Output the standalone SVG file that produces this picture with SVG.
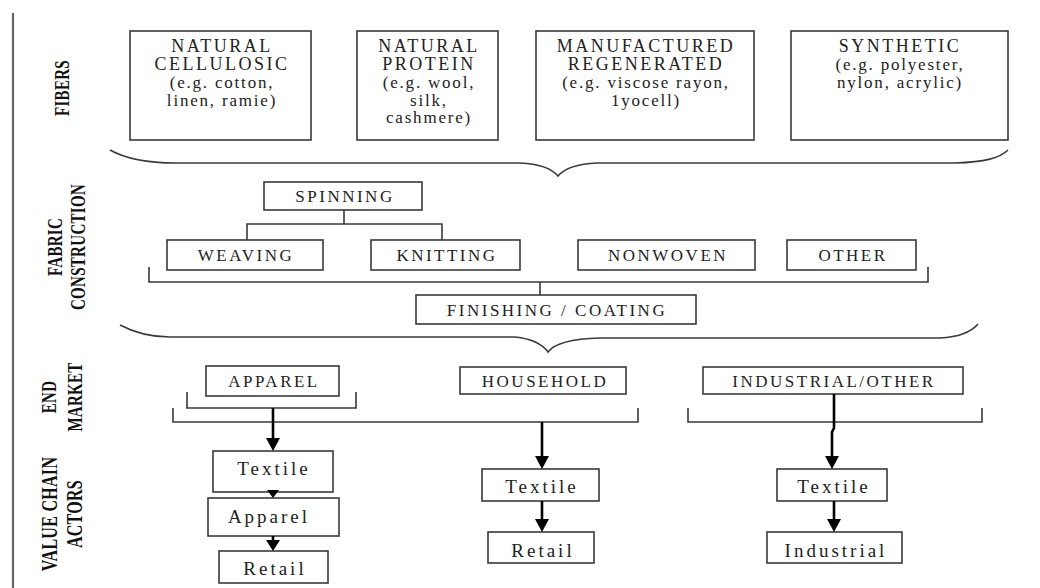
<svg xmlns="http://www.w3.org/2000/svg" width="1040" height="588" viewBox="0 0 1040 588">
  <style>
    .box { fill: #fff; stroke: #3a3a3a; stroke-width: 1.6; }
    .ln { fill: none; stroke: #3a3a3a; stroke-width: 1.6; }
    .arr { fill: none; stroke: #000; stroke-width: 2.6; }
    .tip { fill: #000; }
    text { font-family: "Liberation Serif", "Times New Roman", serif; fill: #222; text-anchor: middle; }
    .fc { font-size: 18px; letter-spacing: 2.5px; }
    .fl { font-size: 17px; letter-spacing: 1.8px; }
    .cap { font-size: 17px; letter-spacing: 2.5px; }
    .low { font-size: 19px; letter-spacing: 3px; }
    .side { font-size: 15px; font-weight: bold; letter-spacing: 0.3px; dominant-baseline: central; fill: #111; }
  </style>

  <rect width="1040" height="588" fill="#fff"/>

  <!-- left rule -->
  <line x1="13" y1="13" x2="13" y2="588" stroke="#666" stroke-width="2.2"/>

  <!-- row labels -->
  <g id="labels">
    <text class="side" transform="translate(61,88) rotate(-90) scale(1,1.45)">FIBERS</text>
    <text class="side" transform="translate(54,247) rotate(-90) scale(1,1.45)">FABRIC</text>
    <text class="side" transform="translate(77,247) rotate(-90) scale(1,1.45)">CONSTRUCTION</text>
    <text class="side" transform="translate(48,397) rotate(-90) scale(1,1.45)">END</text>
    <text class="side" transform="translate(74,397) rotate(-90) scale(1,1.45)">MARKET</text>
    <text class="side" style="font-size:16px" transform="translate(49,514) rotate(-90) scale(1,1.45)">VALUE CHAIN</text>
    <text class="side" style="font-size:16px" transform="translate(74,514) rotate(-90) scale(1,1.45)">ACTORS</text>
  </g>

  <!-- fibers -->
  <g id="natural-cellulosic">
    <rect class="box" x="130" y="31" width="181" height="109"/>
    <text class="fc" x="222" y="52">NATURAL</text>
    <text class="fc" x="222" y="70">CELLULOSIC</text>
    <text class="fl" x="222" y="88">(e.g. cotton,</text>
    <text class="fl" x="222" y="106">linen, ramie)</text>
  </g>
  <g id="natural-protein">
    <rect class="box" x="357" y="31" width="141" height="109"/>
    <text class="fc" x="429" y="52">NATURAL</text>
    <text class="fc" x="429" y="70">PROTEIN</text>
    <text class="fl" x="429" y="88">(e.g. wool,</text>
    <text class="fl" x="429" y="106">silk,</text>
    <text class="fl" x="429" y="123">cashmere)</text>
  </g>
  <g id="manufactured-regenerated">
    <rect class="box" x="536" y="31" width="218" height="109"/>
    <text class="fc" x="646" y="52">MANUFACTURED</text>
    <text class="fc" x="646" y="70">REGENERATED</text>
    <text class="fl" x="646" y="88">(e.g. viscose rayon,</text>
    <text class="fl" x="646" y="106">1yocell)</text>
  </g>
  <g id="synthetic">
    <rect class="box" x="791" y="31" width="217" height="109"/>
    <text class="fc" x="900" y="52">SYNTHETIC</text>
    <text class="fl" x="900" y="70">(e.g. polyester,</text>
    <text class="fl" x="900" y="88">nylon, acrylic)</text>
  </g>

  <!-- fabric construction -->
  <g id="spinning">
    <rect class="box" x="264" y="182" width="158" height="28"/>
    <text class="cap" x="345" y="202">SPINNING</text>
  </g>
  <g id="weaving">
    <rect class="box" x="167" y="240" width="156" height="30"/>
    <text class="cap" x="246" y="261">WEAVING</text>
  </g>
  <g id="knitting">
    <rect class="box" x="371" y="240" width="149" height="30"/>
    <text class="cap" x="447" y="261">KNITTING</text>
  </g>
  <g id="nonwoven">
    <rect class="box" x="578" y="240" width="177" height="30"/>
    <text class="cap" x="668" y="261">NONWOVEN</text>
  </g>
  <g id="other">
    <rect class="box" x="787" y="240" width="129" height="30"/>
    <text class="cap" x="853" y="261">OTHER</text>
  </g>
  <g id="finishing">
    <rect class="box" x="416" y="295" width="280" height="29"/>
    <text class="cap" x="557" y="316">FINISHING / COATING</text>
  </g>

  <!-- end markets -->
  <g id="apparel-market">
    <rect class="box" x="206" y="366" width="133" height="30"/>
    <text class="cap" x="274" y="387">APPAREL</text>
  </g>
  <g id="household-market">
    <rect class="box" x="460" y="367" width="166" height="27"/>
    <text class="cap" x="545" y="387">HOUSEHOLD</text>
  </g>
  <g id="industrial-market">
    <rect class="box" x="703" y="367" width="260" height="27"/>
    <text class="cap" x="834" y="387">INDUSTRIAL/OTHER</text>
  </g>

  <!-- value chain actors -->
  <g id="apparel-textile">
    <rect class="box" x="213" y="451" width="120" height="41"/>
    <text class="low" x="274" y="475">Textile</text>
  </g>
  <g id="apparel-apparel">
    <rect class="box" x="208" y="498" width="131" height="38"/>
    <text class="low" x="269" y="523">Apparel</text>
  </g>
  <g id="apparel-retail">
    <rect class="box" x="219" y="551" width="109" height="32"/>
    <text class="low" x="275" y="575">Retail</text>
  </g>
  <g id="household-textile">
    <rect class="box" x="482" y="469" width="117" height="32"/>
    <text class="low" x="542" y="493">Textile</text>
  </g>
  <g id="household-retail">
    <rect class="box" x="488" y="532" width="106" height="31"/>
    <text class="low" x="543" y="557">Retail</text>
  </g>
  <g id="industrial-textile">
    <rect class="box" x="777" y="469" width="110" height="32"/>
    <text class="low" x="834" y="493">Textile</text>
  </g>
  <g id="industrial-industrial">
    <rect class="box" x="767" y="532" width="135" height="31"/>
    <text class="low" x="836" y="557">Industrial</text>
  </g>

  <g id="connectors">
    <!-- brace under fibers -->
    <path class="ln" d="M110,150 C128,160 150,163 175,163 L520,163 C540,164 552,169 558,176 C564,169 576,164 597,163 L955,163 C985,162 1000,158 1008,150"/>
    <!-- spinning fork -->
    <path class="ln" d="M344,210 V224 M247,240 V224 H442 V240"/>
    <!-- bracket gathering constructions -->
    <path class="ln" d="M149,267 V282 H928 V267 M540,282 V295"/>
    <!-- brace under finishing -->
    <path class="ln" d="M120,325 C135,333 150,337 170,337 L515,337 C534,339 543,345 548,352 C553,345 565,339 600,338 L940,338 C960,337 972,331 978,324"/>
    <!-- end market brackets -->
    <path class="ln" d="M187,392 V408 H356 V392"/>
    <path class="ln" d="M173,408 V422 H638 V408"/>
    <path class="ln" d="M688,408 V422 H982 V408"/>
    <!-- arrows -->
    <path class="arr" d="M273,408 V440"/>
    <path class="tip" d="M266,438 H280 L273,451 Z"/>
    <path class="arr" d="M273,492 V493"/>
    <path class="tip" d="M267,490 H279 L273,498 Z"/>
    <path class="arr" d="M273,536 V542"/>
    <path class="tip" d="M266,540 H280 L273,551 Z"/>
    <path class="arr" d="M542,422 V458"/>
    <path class="tip" d="M535,456 H549 L542,469 Z"/>
    <path class="arr" d="M542,501 V521"/>
    <path class="tip" d="M535,519 H549 L542,532 Z"/>
    <path class="arr" d="M834,394 V428 L832,432 V458"/>
    <path class="tip" d="M825,456 H839 L832,469 Z"/>
    <path class="arr" d="M834,501 V521"/>
    <path class="tip" d="M827,519 H841 L834,532 Z"/>
  </g>
</svg>
